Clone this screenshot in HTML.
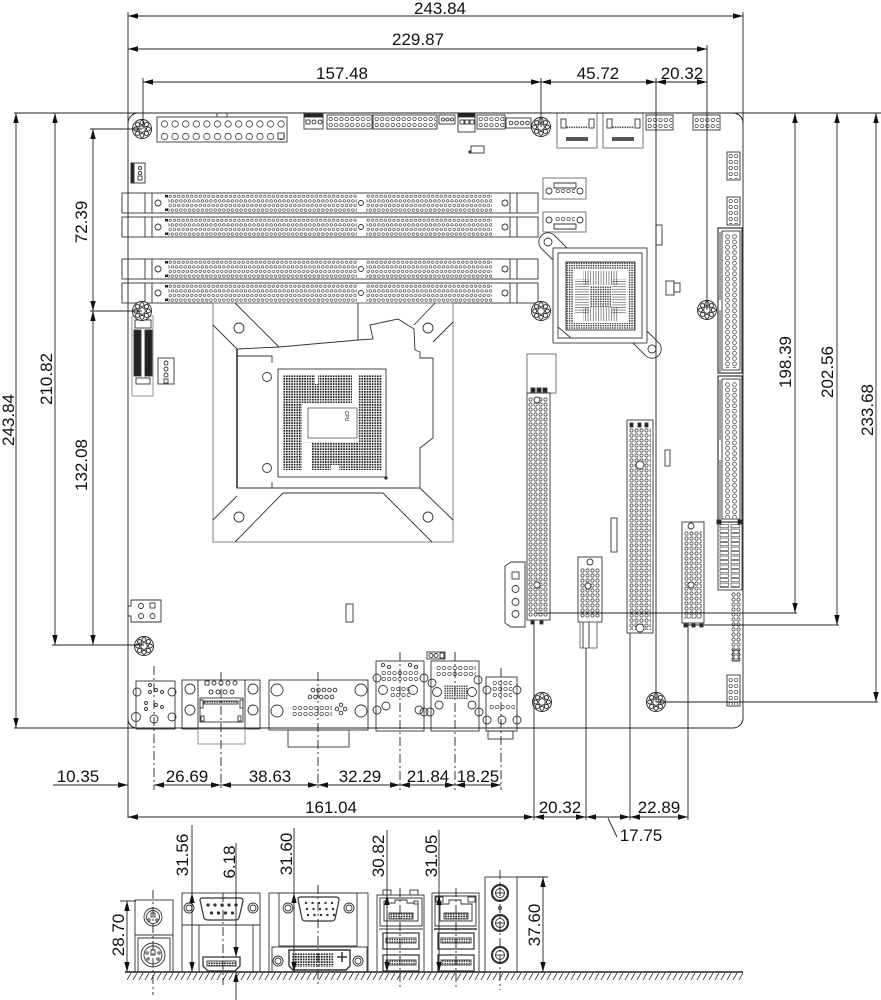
<!DOCTYPE html>
<html><head><meta charset="utf-8"><style>
html,body{margin:0;padding:0;background:#fff;}
svg{display:block;}
text{font-family:"Liberation Sans",Arial,sans-serif;font-size:17px;fill:#111;text-anchor:middle;}
.dd{marker-start:url(#ar);marker-end:url(#ar);}
.de{marker-end:url(#ar);}
</style></head><body>
<svg xmlns="http://www.w3.org/2000/svg" width="881" height="1000" viewBox="0 0 881 1000">
<defs>
<marker id="ar" viewBox="0 0 10 6" refX="10" refY="3" markerWidth="10" markerHeight="6" markerUnits="userSpaceOnUse" orient="auto-start-reverse"><path d="M0,0.3L10,3L0,5.7z" fill="#111" stroke="none"/></marker>
<pattern id="pd" width="4.3" height="9.2" patternUnits="userSpaceOnUse"><g fill="none" stroke="#333" stroke-width="0.6"><circle cx="2.15" cy="2.3" r="1.3"/><circle cx="0" cy="6.9" r="1.3"/><circle cx="4.3" cy="6.9" r="1.3"/></g></pattern>
<pattern id="ps" width="5" height="5" patternUnits="userSpaceOnUse"><circle cx="2.5" cy="2.5" r="1.6" fill="none" stroke="#333" stroke-width="0.7"/></pattern>
<pattern id="pi" width="7" height="5.3" patternUnits="userSpaceOnUse"><circle cx="3.5" cy="2.65" r="1.9" fill="none" stroke="#333" stroke-width="0.7"/></pattern>
<pattern id="ph" width="5.4" height="6" patternUnits="userSpaceOnUse"><circle cx="2.7" cy="3" r="1.7" fill="none" stroke="#333" stroke-width="0.7"/></pattern>
<pattern id="pa" width="10.6" height="12.5" patternUnits="userSpaceOnUse"><circle cx="5.5" cy="6" r="3.2" fill="none" stroke="#333" stroke-width="0.8"/></pattern>
<pattern id="pc" width="2.6" height="2.6" patternUnits="userSpaceOnUse"><rect x="0.4" y="0.4" width="1.7" height="1.7" fill="#222"/></pattern>
<pattern id="pb" width="2.4" height="2.4" patternUnits="userSpaceOnUse"><circle cx="1.2" cy="1.2" r="0.8" fill="#333"/></pattern>
<pattern id="pv" width="2.6" height="4" patternUnits="userSpaceOnUse"><path d="M1.3,0V4" stroke="#444" stroke-width="0.6"/></pattern>
<pattern id="phz" width="4" height="2.6" patternUnits="userSpaceOnUse"><path d="M0,1.3H4" stroke="#444" stroke-width="0.6"/></pattern>
<pattern id="pst" width="11" height="4.5" patternUnits="userSpaceOnUse"><rect x="1" y="0.6" width="8.5" height="3.2" fill="none" stroke="#333" stroke-width="0.6"/></pattern>
<pattern id="hatch" width="6" height="7" patternUnits="userSpaceOnUse"><path d="M5,0 L1,7" stroke="#333" stroke-width="0.8"/></pattern>
<g id="mh" stroke="#222" fill="none" stroke-width="0.9"><circle r="9.5" fill="#fff"/><circle r="3.3"/><circle cx="6.3" r="2"/><circle cx="4.45" cy="4.45" r="2"/><circle cy="6.3" r="2"/><circle cx="-4.45" cy="4.45" r="2"/><circle cx="-6.3" r="2"/><circle cx="-4.45" cy="-4.45" r="2"/><circle cy="-6.3" r="2"/><circle cx="4.45" cy="-4.45" r="2"/></g>
<g id="dimm" stroke="#333" fill="none" stroke-width="0.9">
<rect x="122" y="0" width="416" height="20" fill="#fff"/>
<path d="M145,0V20M152,0V20M510,0V20M517,0V20"/>
<circle cx="158" cy="10" r="3"/><circle cx="505" cy="10" r="3"/><circle cx="361" cy="10" r="2.5"/>
<g transform="translate(168,1)"><rect width="189" height="18.4" fill="url(#pd)" stroke="none"/></g>
<g transform="translate(366,1)"><rect width="126" height="18.4" fill="url(#pd)" stroke="none"/></g>
<rect x="165" y="2" width="3" height="2.5" fill="#222" stroke="none"/><rect x="165" y="15.5" width="3" height="2.5" fill="#222" stroke="none"/>
</g>
</defs>
<rect width="881" height="1000" fill="#fff"/>

<!-- board outline -->
<g stroke="#222" fill="none" stroke-width="1">
<path d="M128,123 A10,10 0 0 1 138,113"/>
<path d="M733,113 A10,10 0 0 1 743,123"/>
<path d="M743,718 A10,10 0 0 1 733,728"/>
<path d="M128,719 A9,9 0 0 0 137,728"/>
</g>

<!-- top connectors -->
<g stroke="#333" fill="none" stroke-width="0.9">
<rect x="157" y="117" width="130" height="25"/>
<path d="M217,117v-4h10v4"/>
<g transform="translate(159,118)"><rect width="127" height="23" fill="url(#pa)" stroke="none"/></g>
<rect x="278" y="133" width="6" height="6" fill="#fff"/>
<rect x="304" y="117" width="19" height="12"/><rect x="304" y="114" width="19" height="3" fill="#222"/>
<rect x="306" y="120" width="4" height="4"/><circle cx="314" cy="122" r="2"/><circle cx="320" cy="122" r="2"/>
<rect x="327" y="115" width="45" height="14"/><g transform="translate(328,116)"><rect width="43" height="12" fill="url(#ph)" stroke="none"/></g>
<rect x="373" y="115" width="64" height="14"/><g transform="translate(374,116)"><rect width="62" height="12" fill="url(#ph)" stroke="none"/></g>
<rect x="439" y="115" width="16" height="9"/><circle cx="443" cy="119.5" r="1.6"/><circle cx="447.5" cy="119.5" r="1.6"/><circle cx="452" cy="119.5" r="1.6"/>
<rect x="458" y="116" width="17" height="16"/><rect x="458" y="113" width="17" height="4" fill="#222"/>
<rect x="460" y="120" width="4" height="4"/><rect x="465" y="120" width="4" height="4"/><rect x="470" y="120" width="4" height="4"/>
<rect x="477" y="115" width="28" height="14"/><g transform="translate(478,116)"><rect width="26" height="12" fill="url(#ph)" stroke="none"/></g>
<rect x="506" y="118" width="25" height="10"/><circle cx="511" cy="123" r="1.8"/><circle cx="516.5" cy="123" r="1.8"/><circle cx="522" cy="123" r="1.8"/><circle cx="527.5" cy="123" r="1.8"/>
<rect x="557" y="113" width="40" height="35" stroke="#666"/><rect x="561" y="119" width="5" height="9"/><rect x="589" y="119" width="5" height="9"/>
<g transform="translate(566,126)"><rect width="22" height="3" fill="url(#pb)" stroke="none"/></g>
<rect x="566" y="137" width="22" height="4" fill="#555" stroke="none"/>
<rect x="603" y="113" width="40" height="35" stroke="#666"/><rect x="607" y="119" width="5" height="9"/><rect x="635" y="119" width="5" height="9"/>
<g transform="translate(612,126)"><rect width="22" height="3" fill="url(#pb)" stroke="none"/></g>
<rect x="612" y="137" width="22" height="4" fill="#555" stroke="none"/>
<rect x="646" y="115" width="27" height="15"/><g transform="translate(647,117)"><rect width="25" height="12" fill="url(#ph)" stroke="none"/></g>
<rect x="693" y="115" width="27" height="15"/><g transform="translate(694,117)"><rect width="25" height="12" fill="url(#ph)" stroke="none"/></g>
<rect x="471" y="146" width="13" height="7"/><rect x="469" y="151" width="2" height="2" fill="#222"/>
<rect x="131" y="163" width="14" height="20"/><rect x="131" y="163" width="3" height="20" fill="#222"/>
<circle cx="140" cy="168" r="1.6"/><circle cx="140" cy="173" r="1.6"/><rect x="138" y="176" width="4" height="4"/>
<!-- SATA -->
<rect x="543" y="178" width="43" height="21" stroke="#666"/><circle cx="549" cy="191" r="3"/><circle cx="580" cy="191" r="3"/>
<path d="M554,183h22v5h-22z"/><g transform="translate(555,188)"><rect width="20" height="5" fill="url(#ph)" stroke="none"/></g>
<rect x="543" y="212" width="43" height="20" stroke="#666"/><circle cx="549" cy="220" r="3"/><circle cx="580" cy="220" r="3"/>
<path d="M554,224h22v5h-22z"/><g transform="translate(555,216)"><rect width="20" height="6" fill="url(#ph)" stroke="none"/></g>
<!-- right headers -->
<rect x="727" y="152" width="13" height="28"/><g transform="translate(728,153)"><rect width="11" height="26" fill="url(#ph)" stroke="none"/></g>
<rect x="727" y="197" width="13" height="28"/><g transform="translate(728,198)"><rect width="11" height="26" fill="url(#ph)" stroke="none"/></g>
<!-- small parts -->
<rect x="656" y="225" width="6" height="20"/>
<rect x="666" y="281" width="8" height="14"/><rect x="674" y="283" width="6" height="9"/>
<rect x="665" y="450" width="5" height="16"/>
<rect x="346" y="604" width="7" height="18"/>
<rect x="611" y="518" width="6" height="34"/>
</g>

<!-- DIMM slots -->
<use href="#dimm" y="193"/>
<use href="#dimm" y="217"/>
<use href="#dimm" y="259"/>
<use href="#dimm" y="283"/>

<!-- left parts -->
<g stroke="#333" fill="none" stroke-width="0.9">
<rect x="132" y="316" width="21" height="80" stroke="#888"/>
<rect x="135" y="320" width="16" height="8"/>
<rect x="134" y="330" width="7" height="46" fill="#222"/><rect x="145" y="330" width="7" height="46" fill="#222"/>
<rect x="136" y="378" width="14" height="6"/>
<rect x="158" y="358" width="16" height="26"/><circle cx="166" cy="363" r="2"/><circle cx="166" cy="369" r="2"/><circle cx="166" cy="375" r="2"/><rect x="164" y="379" width="4" height="4"/>
<path d="M131,600h30v22h-30v-6h-3v-10h3z"/>
<circle cx="141" cy="606" r="2.5"/><circle cx="141" cy="616" r="2.5"/><rect x="150" y="603" width="5" height="5"/><circle cx="152.5" cy="616" r="2.5"/>
</g>

<!-- CPU socket -->
<g stroke="#333" fill="none" stroke-width="0.9">
<rect x="213" y="303" width="240" height="239" stroke="#777"/>
<path d="M237,349 L279,347 L358,340 L373,339 L370,325 L398,319 L414,329 L415,350 L420,352 L420,358 L433,358 L433,438 L420,448 L420,488 L237,488 Z"/>
<path d="M358,303V340"/>
<path d="M213,325L237,349M235,303L279,347M435,303L414,325M453,322L433,342M213,520L237,496M235,542L283,493L383,493L432,542M453,520L420,488"/>
<path d="M237,349V488" stroke-width="1.6"/>
<path d="M237,356H272V363M237,488H272V482" />
<circle cx="239" cy="328" r="5"/><circle cx="428" cy="328" r="5"/>
<circle cx="267" cy="377" r="4.5"/><circle cx="267" cy="468" r="4.5"/>
<circle cx="239" cy="517" r="5"/><circle cx="428" cy="517" r="5"/>
<rect x="278" y="369" width="108" height="108"/>
<g transform="translate(283,375)"><rect width="99" height="95" fill="url(#pc)" stroke="none"/></g>
<rect x="302" y="403" width="56" height="39" fill="#fff" stroke="none"/>
<rect x="302" y="443" width="10" height="27" fill="#fff" stroke="none"/>
<rect x="352" y="375" width="6" height="28" fill="#fff" stroke="none"/>
<rect x="315" y="375" width="3" height="9" fill="#fff" stroke="none"/>
<rect x="331" y="465" width="8" height="5" fill="#fff" stroke="none"/>
<rect x="308" y="408" width="49" height="30" stroke="#666"/>
<circle cx="386" cy="478" r="1.2" fill="#222"/>
</g>
<text transform="translate(345,416) rotate(90)" style="font-size:5px">CPU</text>

<!-- chipset -->
<g stroke="#333" fill="none" stroke-width="0.9">
<path d="M553,260 L541,248 A9,9 0 0 1 555,236 L567,248" fill="#fff"/>
<path d="M647,331 L659,343 A9,9 0 0 1 645,355 L633,343" fill="#fff"/>
<rect x="553" y="248" width="94" height="95" fill="#fff"/>
<rect x="558" y="253" width="84" height="85"/>
<circle cx="548" cy="242" r="4"/><circle cx="652" cy="349" r="4"/>
<g transform="translate(566,262)">
<rect width="69" height="68" fill="url(#pb)" stroke="none"/>
<rect x="7" y="7" width="55" height="54" fill="#fff" stroke="none"/>
<rect x="17" y="9" width="35" height="14" fill="url(#pv)" stroke="none"/>
<rect x="17" y="45" width="35" height="14" fill="url(#pv)" stroke="none"/>
<rect x="9" y="17" width="14" height="35" fill="url(#phz)" stroke="none"/>
<rect x="46" y="17" width="14" height="35" fill="url(#phz)" stroke="none"/>
<rect x="24" y="24" width="21" height="21" fill="url(#pb)" stroke="none"/>
</g>
<rect x="566" y="262" width="69" height="68"/>
<path d="M558,327L571,338"/>
</g>

<!-- PCIe and slots -->
<g stroke="#333" fill="none" stroke-width="0.9">
<rect x="527" y="354" width="29" height="39" stroke="#666"/>
<rect x="531" y="388" width="4" height="4" fill="#222"/><rect x="537" y="388" width="4" height="4" fill="#222"/><rect x="543" y="388" width="4" height="4" fill="#222"/>
<rect x="527" y="393" width="23" height="227"/>
<g transform="translate(528,397)"><rect width="20" height="220" fill="url(#ps)" stroke="none"/></g>
<circle cx="537" cy="400" r="3" fill="#fff"/>
<circle cx="537" cy="585" r="3" fill="#fff"/>
<rect x="531" y="621" width="3" height="3" fill="#222"/><rect x="540" y="621" width="3" height="3" fill="#222"/>
<path d="M505,566 L511,562 L525,562 L525,627 L511,627 L505,623 Z"/>
<rect x="512" y="572" width="7" height="7"/><circle cx="515.5" cy="589" r="3.5"/><circle cx="515.5" cy="602" r="3.5"/><circle cx="515.5" cy="614" r="3.5"/>
<rect x="578" y="557" width="24" height="65"/>
<g transform="translate(580,568)"><rect width="20" height="50" fill="url(#ps)" stroke="none"/></g>
<circle cx="590" cy="562" r="3" fill="#fff"/><circle cx="588" cy="586" r="3" fill="#fff"/>
<rect x="580" y="622" width="17" height="26" stroke="#666"/><path d="M583,622V648M589,622V648"/>
<rect x="627" y="420" width="26" height="213"/>
<g transform="translate(629,428)"><rect width="22" height="202" fill="url(#ps)" stroke="none"/></g>
<rect x="630" y="423" width="3" height="4" fill="#222"/><rect x="638" y="423" width="3" height="4" fill="#222"/><rect x="645" y="423" width="3" height="4" fill="#222"/>
<circle cx="640" cy="465" r="4" fill="#fff"/><circle cx="640" cy="628" r="4" fill="#fff"/>
<rect x="682" y="522" width="22" height="101"/>
<g transform="translate(684,531)"><rect width="18" height="88" fill="url(#ps)" stroke="none"/></g>
<circle cx="691" cy="526" r="3" fill="#fff"/><circle cx="691" cy="585" r="3" fill="#fff"/>
<rect x="684" y="624" width="3" height="3" fill="#222"/><rect x="692" y="624" width="3" height="3" fill="#222"/><rect x="700" y="624" width="3" height="3" fill="#222"/>
<!-- IDE -->
<rect x="718" y="228" width="24" height="145" stroke-width="1.2"/>
<rect x="722" y="231" width="18" height="139"/>
<g transform="translate(724,234)"><rect width="14" height="134" fill="url(#pi)" stroke="none"/></g>
<path d="M720,232V300M720,310V372"/>
<rect x="718" y="376" width="24" height="146" stroke-width="1.2"/>
<rect x="722" y="379" width="18" height="140"/>
<g transform="translate(724,382)"><rect width="14" height="136" fill="url(#pi)" stroke="none"/></g>
<path d="M720,380V440M720,460V520"/>
<rect x="718" y="522" width="24" height="68"/>
<g transform="translate(719,524)"><rect width="22" height="64" fill="url(#pst)" stroke="none"/></g>
<rect x="717" y="520" width="4" height="4" fill="#222"/><rect x="738" y="520" width="4" height="4" fill="#222"/>
<g transform="translate(731,592)"><rect width="10" height="70" fill="url(#ps)" stroke="none"/></g>
<rect x="733" y="650" width="6" height="11"/>
<rect x="727" y="675" width="13" height="31"/><g transform="translate(728,677)"><rect width="11" height="28" fill="url(#ph)" stroke="none"/></g>
</g>

<!-- bottom I/O top view -->
<g stroke="#333" fill="none" stroke-width="0.9">
<rect x="427" y="652" width="18" height="7"/><circle cx="431" cy="655.5" r="2"/><circle cx="436" cy="655.5" r="2"/><rect x="440" y="653" width="4" height="5"/>
<rect x="136" y="681" width="39" height="48"/>
<circle cx="137" cy="692" r="4"/><circle cx="172" cy="692" r="4"/><circle cx="136" cy="717" r="4.5"/><circle cx="154" cy="719" r="4"/><circle cx="172" cy="717" r="4"/>
<circle cx="150" cy="685" r="1.5"/><circle cx="156" cy="690" r="1.5"/><circle cx="150" cy="692" r="1.5"/><circle cx="162" cy="692" r="1.5"/><circle cx="146" cy="703" r="1.5"/><circle cx="156" cy="705" r="1.5"/><circle cx="162" cy="707" r="1.5"/><circle cx="146" cy="709" r="1.5"/>
<rect x="182" y="680" width="78" height="49"/>
<path d="M198,680V729M245,680V729"/>
<circle cx="190" cy="689" r="5"/><circle cx="190" cy="710" r="5"/><circle cx="253" cy="689" r="5"/><circle cx="253" cy="710" r="5"/>
<rect x="205" y="681" width="4" height="4"/><circle cx="214" cy="683" r="2"/><circle cx="221" cy="683" r="2"/><circle cx="228" cy="683" r="2"/><circle cx="235" cy="683" r="2"/>
<circle cx="211" cy="692" r="2"/><circle cx="218" cy="692" r="2"/><circle cx="225" cy="692" r="2"/><circle cx="232" cy="692" r="2"/>
<rect x="200" y="698" width="43" height="24"/><rect x="204" y="701" width="34" height="3" fill="url(#pb)"/>
<rect x="200" y="700" width="3" height="8"/><rect x="240" y="700" width="3" height="8"/><rect x="201" y="716" width="3" height="5"/><rect x="238" y="716" width="3" height="5"/>
<rect x="198" y="729" width="47" height="15" stroke="#888"/>
<rect x="269" y="680" width="99" height="50"/>
<circle cx="277" cy="690" r="6"/><circle cx="277" cy="711" r="6"/><circle cx="361" cy="690" r="6"/><circle cx="361" cy="711" r="6"/>
<circle cx="313" cy="690" r="1.8"/><circle cx="318.5" cy="690" r="1.8"/><circle cx="324" cy="690" r="1.8"/><circle cx="329.5" cy="690" r="1.8"/><circle cx="335" cy="690" r="1.8"/>
<circle cx="310" cy="697" r="1.8"/><circle cx="315.5" cy="697" r="1.8"/><circle cx="321" cy="697" r="1.8"/><circle cx="326.5" cy="697" r="1.8"/><circle cx="332" cy="697" r="1.8"/>
<g transform="translate(292,705)"><rect width="40" height="13" fill="url(#ph)" stroke="none"/></g>
<circle cx="341" cy="705" r="1.8"/><circle cx="337" cy="709" r="1.8"/><circle cx="345" cy="709" r="1.8"/><circle cx="341" cy="713" r="1.8"/>
<rect x="288" y="730" width="61" height="17"/>
<rect x="376" y="661" width="48" height="70"/>
<circle cx="377" cy="678" r="4"/><circle cx="424" cy="678" r="4"/><circle cx="383" cy="690" r="4.5"/><circle cx="413" cy="690" r="4.5"/>
<circle cx="377" cy="710" r="4"/><circle cx="386" cy="706" r="4"/><circle cx="419" cy="710" r="4"/><circle cx="424" cy="712" r="4"/>
<circle cx="383" cy="665" r="1.6"/><circle cx="389" cy="667" r="1.6"/><circle cx="410" cy="665" r="1.6"/><circle cx="416" cy="667" r="1.6"/>
<g transform="translate(381,670)"><rect width="38" height="11" fill="url(#ph)" stroke="none"/></g>
<g transform="translate(390,686)"><rect width="20" height="11" fill="url(#ph)" stroke="none"/></g>
<rect x="431" y="661" width="48" height="70"/>
<circle cx="432" cy="683" r="4"/><circle cx="478" cy="680" r="4"/><circle cx="437" cy="692" r="4.5"/><circle cx="472" cy="692" r="4.5"/>
<circle cx="430" cy="712" r="4"/><circle cx="439" cy="705" r="4"/><circle cx="472" cy="705" r="4"/><circle cx="479" cy="712" r="4"/>
<g transform="translate(436,665)"><rect width="40" height="12" fill="url(#ph)" stroke="none"/></g>
<g transform="translate(444,685)"><rect width="24" height="14" fill="url(#pb)" stroke="none"/></g>
<rect x="486" y="677" width="31" height="54"/>
<circle cx="487" cy="690" r="4"/><circle cx="517" cy="690" r="4"/><circle cx="487" cy="720" r="4"/><circle cx="502" cy="720" r="4"/><circle cx="517" cy="720" r="4"/>
<g transform="translate(492,680)"><rect width="20" height="17" fill="url(#ph)" stroke="none"/></g>
<g transform="translate(489,704)"><rect width="26" height="6" fill="url(#ph)" stroke="none"/></g>
<rect x="488" y="731" width="25" height="8"/>
</g>

<!-- mounting holes -->
<use href="#mh" x="142" y="129"/>
<use href="#mh" x="541" y="127"/>
<use href="#mh" x="142" y="311"/>
<use href="#mh" x="541" y="311"/>
<use href="#mh" x="707" y="310"/>
<use href="#mh" x="144" y="646"/>
<use href="#mh" x="542" y="702"/>
<use href="#mh" x="656" y="702"/>

<!-- dimension lines (top view) -->
<g stroke="#222" fill="none" stroke-width="0.9">
<path d="M128,12V818M743,12V718M707,45V310M656,78V702M541,78V127M143,78V129"/>
<path d="M14,113H881M14,728H733M90,129H142M90,311H142M52,645H144M534,613H797M688,625H839M656,702H878"/>
<line class="dd" x1="128" y1="16" x2="743" y2="16"/>
<line class="dd" x1="128" y1="49" x2="707" y2="49"/>
<line class="dd" x1="143" y1="82" x2="541" y2="82"/>
<line class="dd" x1="541" y1="82" x2="656" y2="82"/>
<line class="dd" x1="656" y1="82" x2="707" y2="82"/>
<line class="dd" x1="16" y1="113" x2="16" y2="728"/>
<line class="dd" x1="55" y1="113" x2="55" y2="645"/>
<line class="dd" x1="93" y1="129" x2="93" y2="311"/>
<line class="dd" x1="93" y1="311" x2="93" y2="645"/>
<line class="dd" x1="795" y1="113" x2="795" y2="613"/>
<line class="dd" x1="837" y1="113" x2="837" y2="625"/>
<line class="dd" x1="876" y1="113" x2="876" y2="702"/>
<line class="de" x1="53" y1="785" x2="128" y2="785"/>
<line class="dd" x1="154" y1="785" x2="221" y2="785"/>
<line class="dd" x1="221" y1="785" x2="318" y2="785"/>
<line class="dd" x1="318" y1="785" x2="400" y2="785"/>
<line class="dd" x1="400" y1="785" x2="455" y2="785"/>
<line class="dd" x1="455" y1="785" x2="501" y2="785"/>
<line class="dd" x1="128" y1="817" x2="534" y2="817"/>
<line class="dd" x1="534" y1="817" x2="586" y2="817"/>
<line class="dd" x1="586" y1="817" x2="630" y2="817"/>
<line class="dd" x1="630" y1="817" x2="688" y2="817"/>
<path d="M534,620V820M586,648V820M630,633V820M688,623V820M608,818L617,837"/>
<path d="M154,666V790M221,672V790M318,672V790M400,652V790M455,652V790M501,668V790" stroke-dasharray="9,3,2,3"/>
</g>

<!-- rear panel view -->
<g stroke="#333" fill="none" stroke-width="0.9">
<rect x="135" y="900" width="38" height="72"/>
<path d="M135,935H173"/>
<circle cx="153" cy="917" r="9"/><circle cx="153" cy="917" r="6.5"/>
<rect x="151" y="913" width="4" height="4"/><circle cx="149" cy="920" r="1.2"/><circle cx="157" cy="920" r="1.2"/>
<path d="M138,938H170V972H138Z"/>
<circle cx="153" cy="955" r="12"/><circle cx="153" cy="955" r="9"/>
<rect x="151" y="950" width="4" height="5"/><circle cx="148" cy="959" r="1.2"/><circle cx="158" cy="959" r="1.2"/><circle cx="147" cy="953" r="1.2"/><circle cx="159" cy="953" r="1.2"/>
<rect x="182" y="893" width="78" height="79"/>
<path d="M182,925H260M199,925V972M253,925V972"/>
<path d="M200,900Q200,898 203,898L240,898Q243,898 243,901L239,918Q238,920 235,920L208,920Q205,920 204,918Z" stroke-width="1.2"/>
<circle cx="208" cy="905" r="1.2" fill="#333"/><circle cx="215" cy="905" r="1.2" fill="#333"/><circle cx="222" cy="905" r="1.2" fill="#333"/><circle cx="229" cy="905" r="1.2" fill="#333"/><circle cx="236" cy="905" r="1.2" fill="#333"/>
<circle cx="211.5" cy="913" r="1.2" fill="#333"/><circle cx="218.5" cy="913" r="1.2" fill="#333"/><circle cx="225.5" cy="913" r="1.2" fill="#333"/><circle cx="232.5" cy="913" r="1.2" fill="#333"/>
<circle cx="189" cy="908" r="5"/><circle cx="189" cy="908" r="3"/><circle cx="253" cy="908" r="5"/><circle cx="253" cy="908" r="3"/>
<path d="M203,957H240V966L235,971H208L203,966Z" stroke-width="1.3"/>
<rect x="207" y="961" width="29" height="5" fill="url(#pc)"/>
<rect x="269" y="893" width="99" height="79"/>
<rect x="279" y="893" width="78" height="53"/>
<path d="M298,899Q298,897 301,897L336,897Q339,897 339,900L335,919Q334,921 331,921L306,921Q303,921 302,919Z" stroke-width="1.2"/>
<g fill="#333" stroke="none"><circle cx="306" cy="903" r="1.2"/><circle cx="312.5" cy="903" r="1.2"/><circle cx="319" cy="903" r="1.2"/><circle cx="325.5" cy="903" r="1.2"/><circle cx="332" cy="903" r="1.2"/>
<circle cx="307" cy="909" r="1.2"/><circle cx="313.5" cy="909" r="1.2"/><circle cx="320" cy="909" r="1.2"/><circle cx="326.5" cy="909" r="1.2"/><circle cx="333" cy="909" r="1.2"/>
<circle cx="308" cy="915" r="1.2"/><circle cx="314.5" cy="915" r="1.2"/><circle cx="321" cy="915" r="1.2"/><circle cx="327.5" cy="915" r="1.2"/><circle cx="334" cy="915" r="1.2"/></g>
<circle cx="288" cy="908" r="5"/><circle cx="288" cy="908" r="3"/><circle cx="349" cy="908" r="5"/><circle cx="349" cy="908" r="3"/>
<rect x="272" y="947" width="95" height="25"/>
<path d="M289,950H350V966L346,970H293L289,966Z" stroke-width="1.4"/>
<g transform="translate(292,953)"><rect width="42" height="14" fill="url(#pc)" stroke="none"/></g>
<path d="M337,957h10M342,952v10" stroke-width="1.5"/>
<circle cx="278" cy="961" r="5"/><circle cx="278" cy="961" r="3"/><circle cx="358" cy="961" r="5"/><circle cx="358" cy="961" r="3"/>
<rect x="377" y="895" width="47" height="77"/>
<rect x="383" y="890" width="8" height="5"/><rect x="410" y="890" width="8" height="5"/>
<path d="M380,898H422V926H380Z"/>
<path d="M384,903H395V900H407V903H418V921H384Z"/>
<rect x="384" y="901" width="4" height="3" fill="#fff"/><rect x="414" y="901" width="4" height="3" fill="#fff"/>
<rect x="389" y="913" width="24" height="6" fill="url(#pc)"/>
<path d="M379,929H423"/>
<rect x="383" y="933" width="36" height="16" stroke-width="1.2"/><rect x="386" y="938" width="30" height="5" fill="url(#pb)"/>
<rect x="383" y="955" width="36" height="16" stroke-width="1.2"/><rect x="386" y="960" width="30" height="5" fill="url(#pb)"/>
<rect x="432" y="893" width="47" height="79"/>
<rect x="436" y="897" width="7" height="5"/><rect x="468" y="897" width="7" height="5"/>
<path d="M435,896H476V926H435Z"/>
<path d="M440,904H449V900H461V904H472V921H440Z"/>
<rect x="444" y="913" width="24" height="6" fill="url(#pc)"/>
<path d="M434,929H477" stroke-width="1.6"/>
<rect x="438" y="933" width="36" height="16" stroke-width="1.2"/><rect x="441" y="938" width="30" height="5" fill="url(#pb)"/>
<rect x="438" y="955" width="36" height="16" stroke-width="1.2"/><rect x="441" y="960" width="30" height="5" fill="url(#pb)"/>
<rect x="485" y="877" width="32" height="95"/>
<circle cx="500" cy="893" r="8" stroke-width="2.2"/><circle cx="500" cy="893" r="4.5"/><path d="M496,893h8"/>
<circle cx="500" cy="923" r="8" stroke-width="2.2"/><circle cx="500" cy="923" r="4.5"/><path d="M496,923h8"/>
<circle cx="500" cy="955" r="8" stroke-width="2.2"/><circle cx="500" cy="955" r="4.5"/><path d="M496,955h8"/>
<circle cx="500" cy="908" r="1.5"/>
</g>
<g stroke="#222" fill="none">
<line x1="125" y1="972" x2="743" y2="972" stroke-width="1.6"/>
<rect x="125" y="973" width="618" height="7" fill="url(#hatch)" stroke="none"/>
</g>
<g stroke="#222" fill="none" stroke-width="0.9">
<path d="M153,890V995M223,893V985M318,885V985M400,888V990M456,888V990M500,870V990" stroke-dasharray="9,3,2,3"/>
<line class="dd" x1="127" y1="901" x2="127" y2="972"/><path d="M120,901H136"/>
<path d="M192,825V893"/><line class="dd" x1="192" y1="893" x2="192" y2="972"/>
<path d="M294,828V893"/><line class="dd" x1="294" y1="893" x2="294" y2="972"/>
<path d="M387,830V895"/><line class="dd" x1="387" y1="895" x2="387" y2="972"/>
<path d="M439,830V895"/><line class="dd" x1="439" y1="895" x2="439" y2="972"/>
<line class="dd" x1="543" y1="877" x2="543" y2="972"/><path d="M517,877H548"/>
<line class="de" x1="236" y1="843" x2="236" y2="957"/>
<line class="de" x1="236" y1="1000" x2="236" y2="972"/>
</g>

<!-- labels -->
<text x="440" y="14">243.84</text>
<text x="418" y="45">229.87</text>
<text x="342" y="79">157.48</text>
<text x="598" y="79">45.72</text>
<text x="682" y="79">20.32</text>
<text transform="translate(14,420) rotate(-90)">243.84</text>
<text transform="translate(52,379) rotate(-90)">210.82</text>
<text transform="translate(87,222) rotate(-90)">72.39</text>
<text transform="translate(87,465) rotate(-90)">132.08</text>
<text transform="translate(791,362) rotate(-90)">198.39</text>
<text transform="translate(833,372) rotate(-90)">202.56</text>
<text transform="translate(873,410) rotate(-90)">233.68</text>
<text x="78" y="782">10.35</text>
<text x="187" y="782">26.69</text>
<text x="270" y="782">38.63</text>
<text x="360" y="782">32.29</text>
<text x="428" y="782">21.84</text>
<text x="478" y="782">18.25</text>
<text x="331" y="813">161.04</text>
<text x="560" y="813">20.32</text>
<text x="659" y="813">22.89</text>
<text x="641" y="841">17.75</text>
<text transform="translate(124,935) rotate(-90)">28.70</text>
<text transform="translate(188,855) rotate(-90)">31.56</text>
<text transform="translate(235,862) rotate(-90)">6.18</text>
<text transform="translate(292,854) rotate(-90)">31.60</text>
<text transform="translate(384,856) rotate(-90)">30.82</text>
<text transform="translate(437,856) rotate(-90)">31.05</text>
<text transform="translate(540,925) rotate(-90)">37.60</text>
</svg>
</body></html>
